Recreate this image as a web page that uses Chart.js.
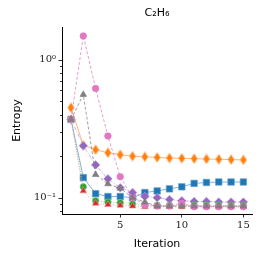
<!DOCTYPE html>
<html lang="en">
<head>
    <meta charset="UTF-8">
    <title>C2H6 entropy</title>
    <script src="https://cdn.jsdelivr.net/npm/chart.js@4.4.3/dist/chart.umd.min.js"></script>
    <style>
        * { margin: 0; padding: 0; }
        body { background: white; }
        .chartBox { width: 262px; height: 262px; }
    </style>
</head>
<body>
<div class="chartBox">
    <canvas id="myChart" width="262" height="262"></canvas>
</div>
<script>
    const iterations = [1, 2, 3, 4, 5, 6, 7, 8, 9, 10, 11, 12, 13, 14, 15];
    const blueVals   = [0.37, 0.14, 0.107, 0.102, 0.102, 0.1, 0.109, 0.112, 0.116, 0.12, 0.127, 0.129, 0.13, 0.13, 0.13];
    const orangeVals = [0.45, 0.24, 0.223, 0.212, 0.205, 0.2, 0.198, 0.196, 0.194, 0.193, 0.192, 0.191, 0.19, 0.189, 0.188];
    const greenVals  = [0.37, 0.12, 0.095, 0.093, 0.092, 0.09, 0.089, 0.088, 0.088, 0.088, 0.088, 0.088, 0.088, 0.088, 0.088];
    const redVals    = [0.37, 0.112, 0.091, 0.089, 0.088, 0.087, 0.086, 0.086, 0.086, 0.086, 0.086, 0.086, 0.086, 0.086, 0.086];
    const purpleVals = [0.37, 0.238, 0.173, 0.137, 0.118, 0.109, 0.102, 0.1, 0.097, 0.095, 0.094, 0.094, 0.093, 0.093, 0.093];
    const pinkVals   = [0.37, 1.49, 0.62, 0.28, 0.142, 0.1, 0.089, 0.087, 0.087, 0.091, 0.086, 0.086, 0.086, 0.086, 0.086];
    const grayVals   = [0.37, 0.56, 0.147, 0.126, 0.117, 0.1, 0.093, 0.087, 0.087, 0.087, 0.087, 0.087, 0.087, 0.087, 0.087];
    const xTicks = [5, 10, 15];
    const yTicks = [0.08, 0.09, 0.1, 0.2, 0.3, 0.4, 0.5, 0.6, 0.7, 0.8, 0.9, 1];
    const yLabels = { 1: '10\u2070', 0.1: '10\u207B\u00B9' };

    const FONT = "'DejaVu Sans', sans-serif";
    const TICKFONT = "'DejaVu Serif', serif";

    // thin diamond marker (matplotlib 'd')
    const thinDiamond = (() => {
        const c = document.createElement('canvas');
        c.width = 8; c.height = 11;
        const g = c.getContext('2d');
        g.beginPath();
        g.moveTo(4, 0.5); g.lineTo(7.3, 5.5); g.lineTo(4, 10.5); g.lineTo(0.7, 5.5);
        g.closePath();
        g.fillStyle = '#ff7f0e';
        g.fill();
        g.strokeStyle = 'rgba(255,190,130,0.8)';
        g.lineWidth = 0.8;
        g.stroke();
        return c;
    })();

    const pts = vals => vals.map((v, i) => ({ x: iterations[i], y: v }));

    const series = (label, vals, color, light, style, radius, dash) => ({
        label,
        data: pts(vals),
        borderColor: light,
        backgroundColor: color,
        pointBackgroundColor: color,
        pointBorderColor: light,
        pointBorderWidth: 0.8,
        pointStyle: style,
        pointRadius: radius,
        borderWidth: 1,
        borderDash: dash,
        tension: 0,
        fill: false
    });

    // first dataset is drawn on top
    const datasets = [
        series('gray', grayVals, '#7f7f7f', 'rgba(127,127,127,0.75)', 'triangle', 3.8, [3, 2]),
        series('pink', pinkVals, '#e377c2', 'rgba(227,119,194,0.75)', 'circle', 3.3, [3, 2]),
        series('red', redVals, '#d62728', 'rgba(240,140,140,0.8)', 'triangle', 3.8, [1, 1.5]),
        series('green', greenVals, '#2ca02c', 'rgba(140,210,140,0.8)', 'circle', 3.3, [1, 1.5]),
        series('purple', purpleVals, '#9467bd', 'rgba(190,160,225,0.8)', 'rectRot', 4.3, [4, 1.5, 1, 1.5]),
        series('orange', orangeVals, '#ff7f0e', 'rgba(255,160,90,0.8)', thinDiamond, 5, []),
        series('blue', blueVals, '#1f77b4', 'rgba(100,160,210,0.8)', 'rect', 4.6, [])
    ];

    // y tick marks: long for decades, short for the rest
    const yTickMarks = {
        id: 'yTickMarks',
        afterDraw(chart) {
            const y = chart.scales.y;
            const left = chart.chartArea.left;
            const ctx = chart.ctx;
            ctx.save();
            ctx.strokeStyle = '#000';
            ctx.lineWidth = 0.8;
            yTicks.forEach(v => {
                const py = Math.round(y.getPixelForValue(v)) + 0.5;
                const len = yLabels[v] ? 3.5 : 2;
                ctx.beginPath();
                ctx.moveTo(left, py);
                ctx.lineTo(left - len, py);
                ctx.stroke();
            });
            ctx.restore();
        }
    };

    new Chart(document.getElementById('myChart'), {
        type: 'line',
        data: { datasets },
        plugins: [yTickMarks],
        options: {
            responsive: false,
            animation: false,
            layout: { padding: { left: 0, right: 10, top: 0, bottom: 0 } },
            plugins: {
                legend: { display: false },
                tooltip: { enabled: false },
                title: {
                    display: true,
                    text: 'C\u2082H\u2086',
                    fullSize: false,
                    color: '#000',
                    font: { family: FONT, size: 11, weight: 'normal' },
                    padding: { top: 6.5, bottom: 7.3 }
                }
            },
            scales: {
                x: {
                    type: 'linear',
                    min: 0.27,
                    max: 15.7,
                    afterBuildTicks: s => { s.ticks = xTicks.map(v => ({ value: v })); },
                    afterFit: s => { s.height = 48; },
                    grid: { drawOnChartArea: false, tickLength: 3.5, tickColor: '#000', tickWidth: 0.8 },
                    border: { display: true, color: '#000', width: 1 },
                    ticks: { color: '#222', font: { family: TICKFONT, size: 10 }, padding: 2, maxRotation: 0 },
                    title: {
                        display: true, text: 'Iteration', color: '#000',
                        font: { family: FONT, size: 11 }, padding: { top: 0, bottom: 11.4 }
                    }
                },
                y: {
                    type: 'logarithmic',
                    min: 0.0762,
                    max: 1.73,
                    afterBuildTicks: s => { s.ticks = yTicks.map(v => ({ value: v })); },
                    afterFit: s => { s.width = 62; },
                    grid: { display: true, drawOnChartArea: false, drawTicks: false },
                    border: { display: true, color: '#000', width: 1 },
                    ticks: {
                        autoSkip: false,
                        color: '#222',
                        font: { family: TICKFONT, size: 10 },
                        padding: 6,
                        callback: v => yLabels[v] || ''
                    },
                    title: {
                        display: true, text: 'Entropy', color: '#000',
                        font: { family: FONT, size: 11 }, padding: { top: 10.4, bottom: 0 }
                    }
                }
            }
        }
    });
</script>
</body>
</html>
